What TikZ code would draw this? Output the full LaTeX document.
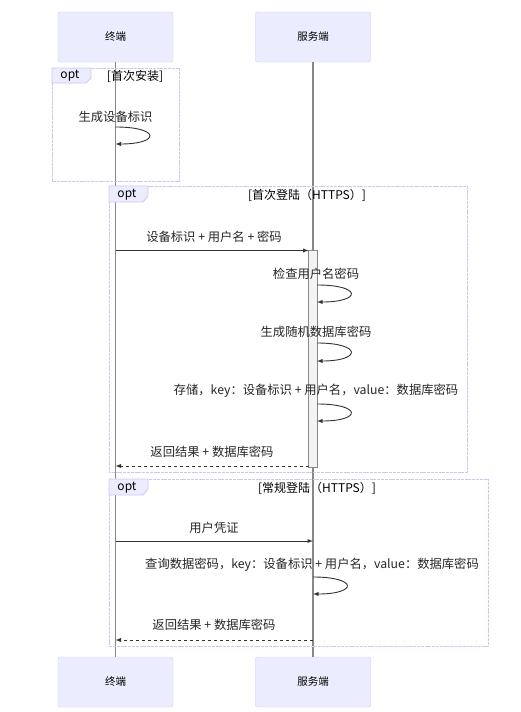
\documentclass[tikz,border=0pt]{standalone}
\usepackage{fontspec}
\setmainfont{Noto Sans CJK SC}
\usetikzlibrary{shapes, arrows, positioning, calc}
\definecolor{actfill}{HTML}{ECECFF}
\definecolor{actline}{HTML}{CFC6F2}
\definecolor{optline}{HTML}{CFC6F2}
\definecolor{lifeline}{HTML}{888888}
\definecolor{msgline}{HTML}{333333}
\definecolor{actvfill}{HTML}{F4F4F4}

\begin{document}
\begin{tikzpicture}[x=1pt, y=-1pt, font=\fontsize{12.3}{14}\selectfont, text=black!85,
	actor/.style={draw=actline, fill=actfill, rounded corners=2pt, minimum width=115pt, minimum height=50pt, font=\fontsize{10.5}{12}\selectfont, text=black},
	life/.style={draw=lifeline, line width=1.2pt},
	msg/.style={-latex, draw=msgline, line width=0.9pt},
	ret/.style={msg, dashed},
	self/.style={-latex, draw=msgline, line width=0.9pt},
	frame/.style={draw=optline, line width=0.8pt, dash pattern=on 3pt off 0.8pt},
	tab/.style={draw=optline, fill=actfill, line width=0.8pt},
	cond/.style={font=\fontsize{12}{14}\selectfont, text=black},
	optlbl/.style={font=\fontsize{12}{14}\selectfont, text=black}]
	\useasboundingbox (0,0) rectangle (521,712);
	% participants
	\node[actor] (t) at (115.5,37) {终端};
	\node[actor] (s) at (313,37) {服务端};
	\node[actor] (tb) at (115.5,682) {终端};
	\node[actor] (sb) at (313,682) {服务端};
	\draw[life] (t) -- (tb);
	\draw[life] (s) -- (sb);
	% opt: first install
	\draw[frame] (52,68) rectangle (179,181);
	\draw[tab] (52,68) -- (91,68) -- (91,78) -- (86,83) -- (52,83) -- cycle;
	\node[optlbl] at (70,76) {opt};
	\node[cond] at (135,76) {[首次安装]};
	\node (m1) at (115.5,117) {生成设备标识};
	\coordinate (t1a) at (115.5,127);
	\coordinate (t1b) at (115.5,144);
	\draw[self] (t1a) .. controls +(45,0) and +(45,0) .. (t1b);
	% opt: first login
	\draw[frame] (109,186) rectangle (467,472);
	\draw[tab] (109,186) -- (148,186) -- (148,196) -- (143,202) -- (109,202) -- cycle;
	\node[optlbl] at (127,195) {opt};
	\node[cond] at (307,195) {[首次登陆（HTTPS）]};
	\draw[draw=lifeline, fill=actvfill, line width=0.8pt] (308.5,250) rectangle (317,467);
	\node (m2) at (214,237) {设备标识 + 用户名 + 密码};
	\coordinate (t2) at (115.5,250.5);
	\coordinate (s2) at (308.5,250.5);
	\draw[msg] (t2) -- (s2);
	\node (m3) at (316,274) {检查用户名密码};
	\coordinate (s3a) at (317,285);
	\coordinate (s3b) at (317,302);
	\draw[self] (s3a) .. controls +(45,0) and +(45,0) .. (s3b);
	\node (m4) at (316,332) {生成随机数据库密码};
	\coordinate (s4a) at (317,343);
	\coordinate (s4b) at (317,361);
	\draw[self] (s4a) .. controls +(45,0) and +(45,0) .. (s4b);
	\node (m5) at (316,391) {存储，key：设备标识 + 用户名，value：数据库密码};
	\coordinate (s5a) at (317,404);
	\coordinate (s5b) at (317,421);
	\draw[self] (s5a) .. controls +(45,0) and +(45,0) .. (s5b);
	\node (m6) at (212,452) {返回结果 + 数据库密码};
	\coordinate (s6) at (308.5,466);
	\coordinate (t6) at (115.5,466);
	\draw[ret] (s6) -- (t6);
	% opt: normal login
	\draw[frame] (109,479) rectangle (488,646);
	\draw[tab] (109,479) -- (148,479) -- (148,489) -- (143,495) -- (109,495) -- cycle;
	\node[optlbl] at (127,488) {opt};
	\node[cond] at (317,488) {[常规登陆（HTTPS）]};
	\node (m7) at (214,528) {用户凭证};
	\coordinate (t7) at (115.5,541);
	\coordinate (s7) at (313,541);
	\draw[msg] (t7) -- (s7);
	\node (m8) at (312,565) {查询数据密码，key：设备标识 + 用户名，value：数据库密码};
	\coordinate (s8a) at (313,577);
	\coordinate (s8b) at (313,594);
	\draw[self] (s8a) .. controls +(45,0) and +(45,0) .. (s8b);
	\node (m9) at (214,625) {返回结果 + 数据库密码};
	\coordinate (s9) at (313,640);
	\coordinate (t9) at (115.5,640);
	\draw[ret] (s9) -- (t9);
\end{tikzpicture}
\end{document}
